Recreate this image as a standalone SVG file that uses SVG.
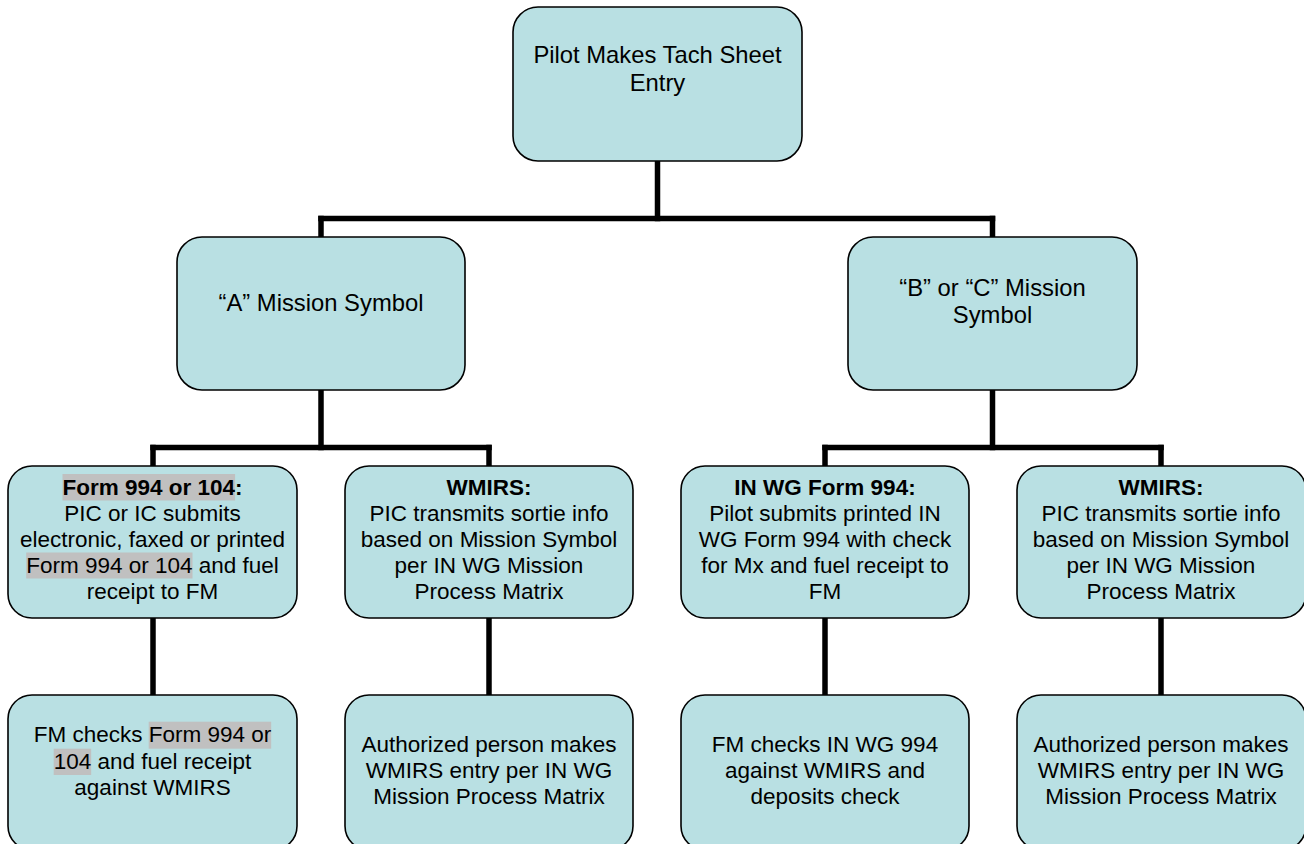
<svg xmlns="http://www.w3.org/2000/svg" width="1304" height="844" viewBox="0 0 1304 844">
<style>
.box{fill:#b9e0e3;stroke:#000;stroke-width:1.6}
.t{font-family:"Liberation Sans",Arial,sans-serif;fill:#000;text-anchor:middle}
.big{font-size:23.8px}
.sm{font-size:22.5px}
.b{font-weight:bold}
.hl{fill:#c0c0c0}
.conn line{stroke:#000;stroke-width:5.5;stroke-linecap:square}
</style>
<rect width="1304" height="844" fill="#fff"/>
<g class="conn" id="connectors">
<line x1="657.5" y1="162" x2="657.5" y2="218.5"/>
<line x1="321" y1="218.5" x2="992.5" y2="218.5"/>
<line x1="321" y1="218.5" x2="321" y2="236"/>
<line x1="992.5" y1="218.5" x2="992.5" y2="236"/>
<line x1="321" y1="391" x2="321" y2="447.5"/>
<line x1="153" y1="447.5" x2="489" y2="447.5"/>
<line x1="153" y1="447.5" x2="153" y2="465"/>
<line x1="489" y1="447.5" x2="489" y2="465"/>
<line x1="992.5" y1="391" x2="992.5" y2="447.5"/>
<line x1="825" y1="447.5" x2="1161" y2="447.5"/>
<line x1="825" y1="447.5" x2="825" y2="465"/>
<line x1="1161" y1="447.5" x2="1161" y2="465"/>
<line x1="153" y1="619" x2="153" y2="694"/>
<line x1="489" y1="619" x2="489" y2="694"/>
<line x1="825" y1="619" x2="825" y2="694"/>
<line x1="1161" y1="619" x2="1161" y2="694"/>
</g>
<g id="n-top">
<rect class="box" x="513" y="7" width="289" height="154" rx="25"/>
<text class="t big" x="657.5" y="63.3">Pilot Makes Tach Sheet</text>
<text class="t big" x="657.5" y="90.7">Entry</text>
</g>
<g id="n-a">
<rect class="box" x="177" y="237" width="288" height="153" rx="25"/>
<text class="t big" x="321" y="310.7">“A” Mission Symbol</text>
</g>
<g id="n-bc">
<rect class="box" x="848" y="237" width="289" height="153" rx="25"/>
<text class="t big" x="992.5" y="296">“B” or “C” Mission</text>
<text class="t big" x="992.5" y="323.3">Symbol</text>
</g>
<g id="n-form">
<rect class="box" x="8" y="466" width="289" height="152" rx="24"/>
<rect class="hl" x="62.5" y="474" width="172.6" height="26.5"/>
<rect class="hl" x="26.2" y="552.5" width="166.3" height="26"/>
<text class="t sm b" x="152.5" y="495.3">Form 994 or 104:</text>
<text class="t sm" x="152.5" y="521.1">PIC or IC submits</text>
<text class="t sm" x="152.5" y="546.9">electronic, faxed or printed</text>
<text class="t sm" x="152.5" y="572.7">Form 994 or 104 and fuel</text>
<text class="t sm" x="152.5" y="598.5">receipt to FM</text>
</g>
<g id="n-wmirs1">
<rect class="box" x="345" y="466" width="288" height="152" rx="24"/>
<text class="t sm b" x="489" y="495.3">WMIRS:</text>
<text class="t sm" x="489" y="521.1">PIC transmits sortie info</text>
<text class="t sm" x="489" y="546.9">based on Mission Symbol</text>
<text class="t sm" x="489" y="572.7">per IN WG Mission</text>
<text class="t sm" x="489" y="598.5">Process Matrix</text>
</g>
<g id="n-inwg">
<rect class="box" x="681" y="466" width="288" height="152" rx="24"/>
<text class="t sm b" x="825" y="495.3">IN WG Form 994:</text>
<text class="t sm" x="825" y="521.1">Pilot submits printed IN</text>
<text class="t sm" x="825" y="546.9">WG Form 994 with check</text>
<text class="t sm" x="825" y="572.7">for Mx and fuel receipt to</text>
<text class="t sm" x="825" y="598.5">FM</text>
</g>
<g id="n-wmirs2">
<rect class="box" x="1017" y="466" width="289" height="152" rx="24"/>
<text class="t sm b" x="1161" y="495.3">WMIRS:</text>
<text class="t sm" x="1161" y="521.1">PIC transmits sortie info</text>
<text class="t sm" x="1161" y="546.9">based on Mission Symbol</text>
<text class="t sm" x="1161" y="572.7">per IN WG Mission</text>
<text class="t sm" x="1161" y="598.5">Process Matrix</text>
</g>
<g id="n-fmcheck1">
<rect class="box" x="8" y="695" width="289" height="155" rx="24"/>
<rect class="hl" x="148.7" y="721.7" width="122.5" height="27"/>
<rect class="hl" x="53.7" y="748.7" width="37.5" height="26.3"/>
<text class="t sm" x="152.5" y="742">FM checks Form 994 or</text>
<text class="t sm" x="152.5" y="768.5">104 and fuel receipt</text>
<text class="t sm" x="152.5" y="794.5">against WMIRS</text>
</g>
<g id="n-auth1">
<rect class="box" x="345" y="695" width="288" height="155" rx="24"/>
<text class="t sm" x="489" y="751.7">Authorized person makes</text>
<text class="t sm" x="489" y="777.7">WMIRS entry per IN WG</text>
<text class="t sm" x="489" y="803.7">Mission Process Matrix</text>
</g>
<g id="n-fmcheck2">
<rect class="box" x="681" y="695" width="288" height="155" rx="24"/>
<text class="t sm" x="825" y="751.7">FM checks IN WG 994</text>
<text class="t sm" x="825" y="777.7">against WMIRS and</text>
<text class="t sm" x="825" y="803.7">deposits check</text>
</g>
<g id="n-auth2">
<rect class="box" x="1017" y="695" width="289" height="155" rx="24"/>
<text class="t sm" x="1161" y="751.7">Authorized person makes</text>
<text class="t sm" x="1161" y="777.7">WMIRS entry per IN WG</text>
<text class="t sm" x="1161" y="803.7">Mission Process Matrix</text>
</g>
</svg>
